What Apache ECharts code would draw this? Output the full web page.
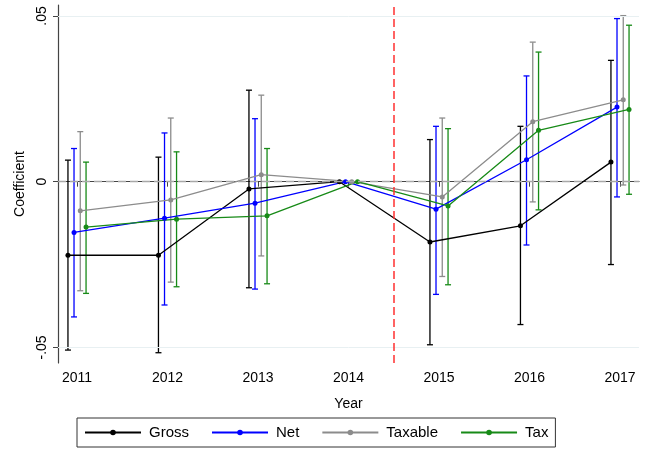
<!DOCTYPE html>
<html>
<head>
<meta charset="utf-8">
<script src="https://cdn.jsdelivr.net/npm/echarts@6/dist/echarts.min.js"></script>
<style>html,body{margin:0;padding:0;background:#fff}#c{width:645px;height:451px}</style>
</head>
<body>
<div id="c"></div>
<script>
const years = [2011, 2012, 2013, 2014, 2015, 2016, 2017];
const yTickVals = [-0.05, 0, 0.05];
const yTickLabels = ['-.05', '0', '.05'];
const seriesNames = ['Gross', 'Net', 'Taxable', 'Tax'];

const grossVals = [-0.0222, -0.0222, -0.0022, 0, -0.0182, -0.0133, 0.0059];
const grossLo   = [-0.0508, -0.0516, -0.0320, null, -0.0492, -0.0431, -0.0250];
const grossHi   = [0.0065, 0.0074, 0.0276, null, 0.0127, 0.0167, 0.0366];

const netVals = [-0.0153, -0.0110, -0.0065, 0, -0.0083, 0.0066, 0.0225];
const netLo   = [-0.0408, -0.0372, -0.0324, null, -0.0340, -0.0191, -0.0046];
const netHi   = [0.0100, 0.0147, 0.0190, null, 0.0167, 0.0319, 0.0492];

const taxableVals = [-0.0088, -0.0055, 0.0021, 0, -0.0046, 0.0181, 0.0247];
const taxableLo   = [-0.0329, -0.0303, -0.0224, null, -0.0286, -0.0061, -0.0010];
const taxableHi   = [0.0151, 0.0192, 0.0261, null, 0.0192, 0.0421, 0.0501];

const taxVals = [-0.0137, -0.0113, -0.0103, 0, -0.0073, 0.0155, 0.0218];
const taxLo   = [-0.0337, -0.0317, -0.0308, null, -0.0311, -0.0085, -0.0038];
const taxHi   = [0.0059, 0.0090, 0.0100, null, 0.0160, 0.0391, 0.0472];

const cutoffYear = 2014.5;

const colors = ['#000000', '#0000ff', '#8c8c8c', '#178a17'];
const dodge = [-0.1, -0.033, 0.036, 0.1];
const vals = [grossVals, netVals, taxableVals, taxVals];
const los = [grossLo, netLo, taxableLo, taxLo];
const his = [grossHi, netHi, taxableHi, taxHi];

const font = 'Liberation Sans, Arial, Helvetica, sans-serif';
const chart = echarts.init(document.getElementById('c'), null, {renderer: 'canvas'});

const series = [];
seriesNames.forEach((name, i) => {
  const ciData = years.map((y, k) => los[i][k] == null ? null : [y + dodge[i], los[i][k], his[i][k]]).filter(d => d);
  series.push({
    name: name + ' CI',
    type: 'custom',
    z: 2,
    silent: true,
    data: ciData,
    renderItem: function (params, api) {
      const x = api.value(0);
      const lo = api.coord([x, api.value(1)]);
      const hi = api.coord([x, api.value(2)]);
      const cw = 3;
      const st = {stroke: colors[i], lineWidth: 1.3};
      return {
        type: 'group',
        children: [
          {type: 'line', shape: {x1: lo[0], y1: lo[1], x2: hi[0], y2: hi[1]}, style: st},
          {type: 'line', shape: {x1: lo[0] - cw, y1: lo[1], x2: lo[0] + cw, y2: lo[1]}, style: st},
          {type: 'line', shape: {x1: hi[0] - cw, y1: hi[1], x2: hi[0] + cw, y2: hi[1]}, style: st}
        ]
      };
    }
  });
});
seriesNames.forEach((name, i) => {
  const s = {
    name: name,
    type: 'line',
    z: 3,
    data: years.map((y, k) => [y + dodge[i], vals[i][k]]),
    symbol: 'circle',
    symbolSize: 5,
    showSymbol: true,
    itemStyle: {color: colors[i]},
    lineStyle: {color: colors[i], width: 1.3},
    emphasis: {disabled: true},
    animation: false
  };
  if (i === 0) {
    s.markLine = {
      silent: true,
      symbol: 'none',
      label: {show: false},
      animation: false,
      data: [
        {yAxis: yTickVals[0], lineStyle: {color: '#e8f0f2', width: 1, type: 'solid'}},
        {yAxis: yTickVals[2], lineStyle: {color: '#e8f0f2', width: 1, type: 'solid'}},
        {yAxis: 0, lineStyle: {color: '#a8a8a8', width: 1.3, type: [8, 4]}},
        {xAxis: cutoffYear, lineStyle: {color: '#ff3030', width: 1.5, type: [8, 4]}}
      ]
    };
  }
  series.push(s);
});

chart.setOption({
  animation: false,
  backgroundColor: '#ffffff',
  grid: {left: 58, right: 6, top: 5, bottom: 88, containLabel: false},
  xAxis: {
    type: 'value',
    min: 2010.79,
    max: 2017.21,
    name: 'Year',
    nameLocation: 'middle',
    nameGap: 34,
    nameTextStyle: {fontFamily: font, fontSize: 14, color: '#000'},
    axisLine: {show: true, lineStyle: {color: '#444', width: 1.2}},
    axisTick: {show: true, length: 5, customValues: years, lineStyle: {color: '#444'}},
    axisLabel: {customValues: years, fontFamily: font, fontSize: 14, color: '#000', margin: 8, formatter: v => String(v)},
    splitLine: {show: false}
  },
  yAxis: {
    type: 'value',
    min: -0.0547,
    max: 0.0533,
    name: 'Coefficient',
    nameLocation: 'middle',
    nameGap: 30,
    nameRotate: 90,
    nameTextStyle: {fontFamily: font, fontSize: 14, color: '#000'},
    axisLine: {show: true, lineStyle: {color: '#444', width: 1.2}},
    axisTick: {show: true, length: 5, customValues: yTickVals, lineStyle: {color: '#444'}},
    axisLabel: {
      customValues: yTickVals, rotate: 90, fontFamily: font, fontSize: 14, color: '#000', margin: 9,
      formatter: v => { const k = yTickVals.findIndex(t => Math.abs(t - v) < 1e-9); return k >= 0 ? yTickLabels[k] : ''; }
    },
    splitLine: {show: false}
  },
  legend: {
    data: seriesNames,
    left: 77,
    top: 418,
    orient: 'horizontal',
    borderColor: '#333',
    borderWidth: 1,
    borderRadius: 0,
    padding: [7, 7, 7, 7],
    itemWidth: 56,
    itemHeight: 7,
    itemGap: 22,
    textStyle: {fontFamily: font, fontSize: 15, color: '#000', padding: [0, 0, 0, 3]},
    selectedMode: false
  },
  series: series
});
</script>
</body>
</html>
